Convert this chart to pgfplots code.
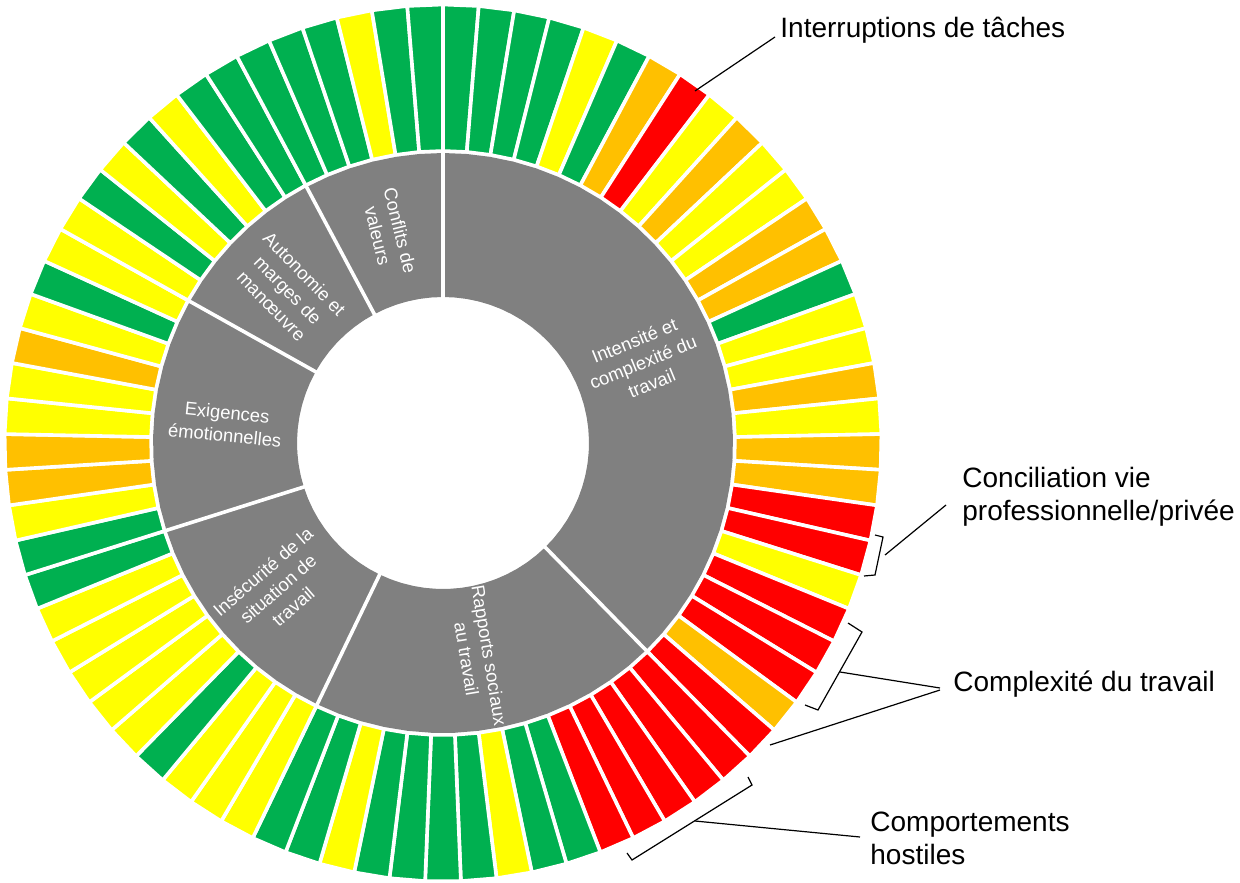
\documentclass[border=0pt]{standalone}
\usepackage{fontspec}
\setmainfont{Liberation Sans}
\usepackage{pgfplots}
\pgfplotsset{compat=1.18}
\usepgfplotslibrary{polar}

\definecolor{cG}{HTML}{00B050}
\definecolor{cY}{HTML}{FFFF00}
\definecolor{cO}{HTML}{FFC000}
\definecolor{cR}{HTML}{FF0000}
\definecolor{gry}{HTML}{808080}

% one outer segment and the grey piece under it: colour, start angle, end angle
\newcommand{\seg}[3]{%
  \addplot[data cs=polar, fill=#1, draw=white, line width=1.8pt, line join=round]
    coordinates {(#2,292) (#2,438.5) (#3,438.5) (#3,292)} -- cycle;
  \addplot[data cs=polar, fill=gry, draw=gry, line width=0.8pt, line join=round]
    coordinates {(#2,146.8) (#2,289.2) (#3,289.2) (#3,146.8)} -- cycle;
}

\begin{document}
\begin{tikzpicture}
\begin{axis}[
  x=0.5pt, y=0.5pt,
  xmin=-443, xmax=797, ymin=-439, ymax=443,
  hide axis, clip=false,
]
\path (axis cs:-443,-439) rectangle (axis cs:797,443);

% Intensite et complexite du travail
\seg{cG}{90}{85.325}
\seg{cG}{85.325}{80.649}
\seg{cG}{80.649}{75.974}
\seg{cG}{75.974}{71.299}
\seg{cY}{71.299}{66.623}
\seg{cG}{66.623}{61.948}
\seg{cO}{61.948}{57.273}
\seg{cR}{57.273}{52.597}
\seg{cY}{52.597}{47.922}
\seg{cO}{47.922}{43.247}
\seg{cY}{43.247}{38.571}
\seg{cY}{38.571}{33.896}
\seg{cO}{33.896}{29.221}
\seg{cO}{29.221}{24.545}
\seg{cG}{24.545}{19.870}
\seg{cY}{19.870}{15.195}
\seg{cY}{15.195}{10.519}
\seg{cO}{10.519}{5.844}
\seg{cY}{5.844}{1.169}
\seg{cO}{1.169}{-3.506}
\seg{cO}{-3.506}{-8.182}
\seg{cR}{-8.182}{-12.857}
\seg{cR}{-12.857}{-17.532}
\seg{cY}{-17.532}{-22.208}
\seg{cR}{-22.208}{-26.883}
\seg{cR}{-26.883}{-31.558}
\seg{cR}{-31.558}{-36.234}
\seg{cO}{-36.234}{-40.909}
\seg{cR}{-40.909}{-45.584}
% Rapports sociaux au travail
\seg{cR}{-45.584}{-50.260}
\seg{cR}{-50.260}{-54.935}
\seg{cR}{-54.935}{-59.610}
\seg{cR}{-59.610}{-64.286}
\seg{cR}{-64.286}{-68.961}
\seg{cG}{-68.961}{-73.636}
\seg{cG}{-73.636}{-78.312}
\seg{cY}{-78.312}{-82.987}
\seg{cG}{-82.987}{-87.662}
\seg{cG}{-87.662}{-92.338}
\seg{cG}{-92.338}{-97.013}
\seg{cG}{-97.013}{-101.688}
\seg{cY}{-101.688}{-106.364}
\seg{cG}{-106.364}{-111.039}
\seg{cG}{-111.039}{-115.714}
% Insecurite de la situation de travail
\seg{cY}{-115.714}{-120.390}
\seg{cY}{-120.390}{-125.065}
\seg{cY}{-125.065}{-129.740}
\seg{cG}{-129.740}{-134.416}
\seg{cY}{-134.416}{-139.091}
\seg{cY}{-139.091}{-143.766}
\seg{cY}{-143.766}{-148.442}
\seg{cY}{-148.442}{-153.117}
\seg{cY}{-153.117}{-157.792}
\seg{cG}{-157.792}{-162.468}
% Exigences emotionnelles
\seg{cG}{-162.468}{-167.143}
\seg{cY}{-167.143}{-171.818}
\seg{cO}{-171.818}{-176.494}
\seg{cO}{-176.494}{-181.169}
\seg{cY}{-181.169}{-185.844}
\seg{cY}{-185.844}{-190.519}
\seg{cO}{-190.519}{-195.195}
\seg{cY}{-195.195}{-199.870}
\seg{cG}{-199.870}{-204.545}
\seg{cY}{-204.545}{-209.221}
% Autonomie et marges de manoeuvre
\seg{cY}{-209.221}{-213.896}
\seg{cG}{-213.896}{-218.571}
\seg{cY}{-218.571}{-223.247}
\seg{cG}{-223.247}{-227.922}
\seg{cY}{-227.922}{-232.597}
\seg{cG}{-232.597}{-237.273}
\seg{cG}{-237.273}{-241.948}
% Conflits de valeurs
\seg{cG}{-241.948}{-246.623}
\seg{cG}{-246.623}{-251.299}
\seg{cG}{-251.299}{-255.974}
\seg{cY}{-255.974}{-260.649}
\seg{cG}{-260.649}{-265.325}
\seg{cG}{-265.325}{-270}

% white lines between the grey groups
\addplot[data cs=polar, draw=white, line width=1.8pt] coordinates {(90,140) (90,291)};
\addplot[data cs=polar, draw=white, line width=1.8pt] coordinates {(-45.584,140) (-45.584,291)};
\addplot[data cs=polar, draw=white, line width=1.8pt] coordinates {(-115.714,140) (-115.714,291)};
\addplot[data cs=polar, draw=white, line width=1.8pt] coordinates {(-162.468,140) (-162.468,291)};
\addplot[data cs=polar, draw=white, line width=1.8pt] coordinates {(-209.221,140) (-209.221,291)};
\addplot[data cs=polar, draw=white, line width=1.8pt] coordinates {(-241.948,140) (-241.948,291)};

% inner labels
\tikzset{inlab/.style={text=white, align=center, inner sep=0pt, font=\fontsize{9.2}{11.5}\selectfont}}
\node[inlab, rotate=22.2] at (axis cs:200,81) {Intensité et\\complexité du\\travail};
\node[inlab, rotate=-80.6] at (axis cs:35,-214) {Rapports sociaux\\au travail};
\node[inlab, rotate=40.9] at (axis cs:-165,-146) {Insécurité de la\\situation de\\travail};
\node[inlab, rotate=-5.8] at (axis cs:-217,19) {Exigences\\émotionnelles};
\node[inlab, rotate=-45.6] at (axis cs:-155,153) {Autonomie et\\marges de\\manœuvre};
\node[inlab, rotate=-76] at (axis cs:-54,210) {Conflits de\\valeurs};

% outer annotations
\tikzset{outlab/.style={anchor=west, align=left, inner sep=0pt, font=\fontsize{14}{16.5}\selectfont}}
\node[outlab] at (axis cs:337,413) {Interruptions de tâches};
\node[outlab] at (axis cs:519,-53.5) {Conciliation vie\\professionnelle/privée};
\node[outlab] at (axis cs:510,-241) {Complexité du travail};
\node[outlab] at (axis cs:427,-395.5) {Comportements\\hostiles};

\tikzset{lead/.style={black, line width=0.6pt}}
\draw[lead] (axis cs:332,406) -- (axis cs:252,352);
\draw[lead] (axis cs:432,-92) -- (axis cs:440,-94) -- (axis cs:432,-132) -- (axis cs:421,-133);
\draw[lead] (axis cs:442,-112) -- (axis cs:503,-62);
\draw[lead] (axis cs:405,-180) -- (axis cs:419,-189) -- (axis cs:375,-267) -- (axis cs:362,-262);
\draw[lead] (axis cs:397,-229) -- (axis cs:497,-245);
\draw[lead] (axis cs:327,-302) -- (axis cs:497,-247);
\draw[lead] (axis cs:305,-334) -- (axis cs:309,-342) -- (axis cs:189,-417) -- (axis cs:184,-410);
\draw[lead] (axis cs:252,-378) -- (axis cs:417,-394);
\end{axis}
\end{tikzpicture}
\end{document}
